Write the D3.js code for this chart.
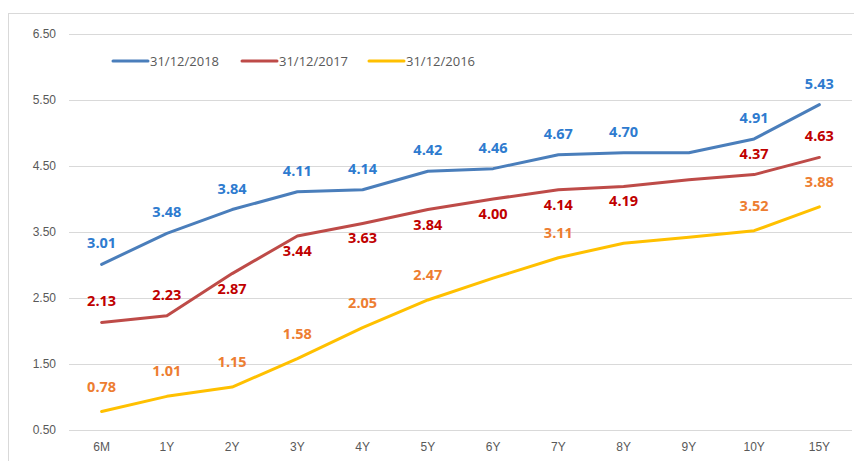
<!DOCTYPE html>
<html>
<head>
<meta charset="utf-8">
<script src="https://cdn.jsdelivr.net/npm/d3@7"></script>
<style>
  html, body { margin: 0; padding: 0; background: #fff; }
  svg { display: block; font-family: "Open Sans", sans-serif; }
</style>
</head>
<body>
<svg id="chart" width="854" height="461"></svg>
<script>
// Government bond yield curves by tenor
const tenors = ["6M", "1Y", "2Y", "3Y", "4Y", "5Y", "6Y", "7Y", "8Y", "9Y", "10Y", "15Y"];
const seriesNames = ["31/12/2018", "31/12/2017", "31/12/2016"];
const yields2018 = [3.01, 3.48, 3.84, 4.11, 4.14, 4.42, 4.46, 4.67, 4.70, 4.70, 4.91, 5.43];
const yields2017 = [2.13, 2.23, 2.87, 3.44, 3.63, 3.84, 4.00, 4.14, 4.19, 4.29, 4.37, 4.63];
const yields2016 = [0.78, 1.01, 1.15, 1.58, 2.05, 2.47, 2.80, 3.11, 3.33, 3.42, 3.52, 3.88];
const yTicks = [0.5, 1.5, 2.5, 3.5, 4.5, 5.5, 6.5];

// Which points carry a value label, and on which side of the line
const shown2018 = [1, 1, 1, 1, 1, 1, 1, 1, 1, 0, 1, 1];
const shown2017 = [1, 1, 1, 1, 1, 1, 1, 1, 1, 0, 1, 1];
const shown2016 = [1, 1, 1, 1, 1, 1, 0, 1, 0, 0, 1, 1];
const below2017 = [0, 0, 1, 1, 1, 1, 1, 1, 1, 0, 0, 0];

// Label gap (px) from the point to the text baseline, above / below
const series = [
  { name: seriesNames[0], values: yields2018, shown: shown2018, below: null,
    line: "#4A7EBB", label: "#2E7BCF", up: -16, down: 0 },
  { name: seriesNames[1], values: yields2017, shown: shown2017, below: below2017,
    line: "#BE4B48", label: "#C00000", up: -16, down: 20 },
  { name: seriesNames[2], values: yields2016, shown: shown2016, below: null,
    line: "#FFC000", label: "#ED7D31", up: -20, down: 0 }
];

const svg = d3.select("#chart");

// Chart frame
svg.append("rect")
  .attr("x", 8.5).attr("y", 13.5)
  .attr("width", 900).attr("height", 500)
  .attr("fill", "none").attr("stroke", "#d9d9d9").attr("stroke-width", 1);

const x = d3.scaleBand().domain(tenors).range([69, 852]);
const y = d3.scaleLinear().domain([0.5, 6.5]).range([430, 34]);
const cx = t => x(t) + x.bandwidth() / 2;

// Horizontal gridlines and value axis
const yAxis = d3.axisLeft(y)
  .tickValues(yTicks)
  .tickFormat(d3.format(".2f"))
  .tickSize(-(852 - 69))
  .tickPadding(13);

const gy = svg.append("g")
  .attr("transform", "translate(69,0)")
  .call(yAxis);
gy.select(".domain").remove();
gy.selectAll(".tick line").attr("stroke", "#d9d9d9").attr("stroke-width", 1);
gy.selectAll(".tick text")
  .attr("fill", "#595959")
  .style("font-size", "12px");

// Category axis
const xAxis = d3.axisBottom(x).tickSize(0).tickPadding(12);
const gx = svg.append("g")
  .attr("transform", "translate(0,430)")
  .call(xAxis);
gx.select(".domain").remove();
gx.selectAll(".tick text")
  .attr("fill", "#595959")
  .style("font-size", "12px");

// Lines
const lineGen = d3.line()
  .x((d, i) => cx(tenors[i]))
  .y(d => y(d));

series.forEach(s => {
  svg.append("path")
    .datum(s.values)
    .attr("d", lineGen)
    .attr("fill", "none")
    .attr("stroke", s.line)
    .attr("stroke-width", 3)
    .attr("stroke-linejoin", "round")
    .attr("stroke-linecap", "round");
});

// Value labels
series.forEach(s => {
  svg.append("g")
    .selectAll("text")
    .data(s.values.map((v, i) => ({ v, i })).filter(d => s.shown[d.i]))
    .join("text")
    .attr("x", d => cx(tenors[d.i]))
    .attr("y", d => y(d.v) + (s.below && s.below[d.i] ? s.down : s.up))
    .attr("text-anchor", "middle")
    .attr("fill", s.label)
    .style("font-size", "14.5px")
    .style("font-weight", "bold")
    .text(d => d3.format(".2f")(d.v));
});

// Legend
const legend = svg.append("g").attr("transform", "translate(0,61)");
const legendX = [113, 242, 369];
series.forEach((s, i) => {
  legend.append("line")
    .attr("x1", legendX[i]).attr("x2", legendX[i] + 35)
    .attr("y1", 0).attr("y2", 0)
    .attr("stroke", s.line).attr("stroke-width", 3)
    .attr("stroke-linecap", "round");
  legend.append("text")
    .attr("x", legendX[i] + 37)
    .attr("y", 0)
    .attr("dy", "0.35em")
    .attr("fill", "#595959")
    .style("font-size", "13px")
    .text(s.name);
});
</script>
</body>
</html>
